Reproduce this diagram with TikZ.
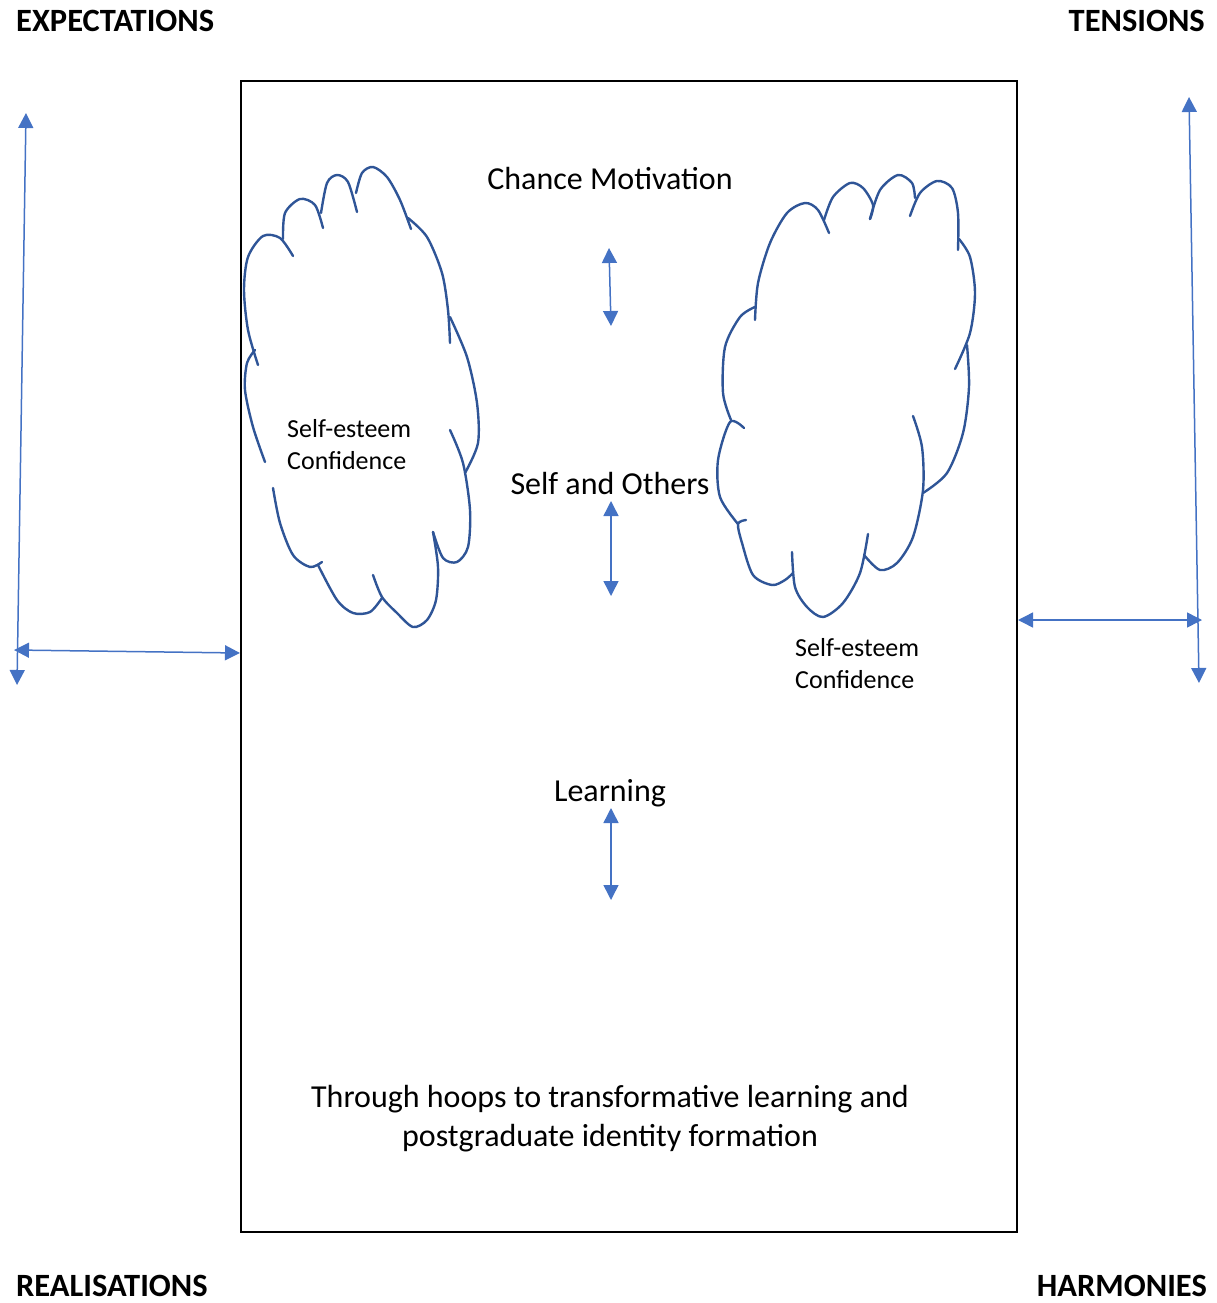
\documentclass[tikz,border=0pt]{standalone}
\usepackage{fontspec}
\setmainfont{Carlito}
\usetikzlibrary{arrows.meta}

\begin{document}
\begin{tikzpicture}[x=1pt,y=-1pt,
  cornertxt/.style={font=\fontsize{32.5}{38}\selectfont\bfseries, inner sep=0pt},
  midtxt/.style={font=\fontsize{32}{38}\selectfont, inner sep=0pt, anchor=base},
  esteemtxt/.style={font=\fontsize{26}{32}\selectfont, inner sep=0pt, anchor=base west},
  arr/.style={arrowBlue, line width=1.5pt, {Triangle[length=15pt,width=15pt]}-{Triangle[length=15pt,width=15pt]}},
  cloudline/.style={cloudBlue, line width=2.4pt, line cap=round}]

\definecolor{arrowBlue}{HTML}{4472C4}
\definecolor{cloudBlue}{HTML}{2F5597}

\useasboundingbox (0,0) rectangle (1217,1303);

% corner labels
\node[cornertxt, anchor=base west] (expect) at (16,32) {EXPECTATIONS};
\node[cornertxt, anchor=base east] (tension) at (1205,32) {TENSIONS};
\node[cornertxt, anchor=base west] (realis) at (16,1296) {REALISATIONS};
\node[cornertxt, anchor=base east] (harmon) at (1207,1296) {HARMONIES};

% frame
\node[draw, line width=2pt, inner sep=0pt, minimum width=776pt, minimum height=1151pt, anchor=north west] (frame) at (240,80) {};

% texts in the frame
\node[midtxt] (chance) at (610,189) {Chance Motivation};
\node[midtxt] (others) at (610,494) {Self and Others};
\node[midtxt] (learn) at (610,801) {Learning};
\node[midtxt] (hoops1) at (610,1107) {Through hoops to transformative learning and};
\node[midtxt] (hoops2) at (610,1146) {postgraduate identity formation};

\node[esteemtxt] (esteemL) at (287,437) {Self-esteem};
\node[esteemtxt] (confL) at (287,469) {Confidence};
\node[esteemtxt] (esteemR) at (795,656) {Self-esteem};
\node[esteemtxt] (confR) at (795,688) {Confidence};

% arrows
\coordinate (expTop) at (26,113);
\coordinate (expBot) at (17,685);
\coordinate (expL) at (14,650);
\coordinate (expR) at (240,653);
\coordinate (tenTop) at (1189,97);
\coordinate (tenBot) at (1199,683);
\coordinate (tenL) at (1018,620);
\coordinate (tenR) at (1202,620);
\coordinate (chTop) at (609,248);
\coordinate (chBot) at (611,326);
\coordinate (soTop) at (611,501);
\coordinate (soBot) at (611,596);
\coordinate (leTop) at (611,808);
\coordinate (leBot) at (611,900);

\draw[arr] (expTop) -- (expBot);
\draw[arr] (expL) -- (expR);
\draw[arr] (tenTop) -- (tenBot);
\draw[arr] (tenL) -- (tenR);
\draw[arr] (chTop) -- (chBot);
\draw[arr] (soTop) -- (soBot);
\draw[arr] (leTop) -- (leBot);

% left cloud
\draw[cloudline] plot[smooth] coordinates {(258,365) (248,330) (244,290) (248,257) (263,236) (280,238) (293,256)};
\draw[cloudline] plot[smooth] coordinates {(283,239) (285,213) (300,199) (315,205) (323,228)};
\draw[cloudline] plot[smooth] coordinates {(321,213) (327,183) (337,175) (348,182) (357,212)};
\draw[cloudline] plot[smooth] coordinates {(356,193) (362,173) (373,167) (387,177) (400,200) (411,229)};
\draw[cloudline] plot[smooth] coordinates {(408,218) (427,237) (442,273) (448,310) (450,343)};
\draw[cloudline] plot[smooth] coordinates {(450,317) (467,357) (477,403) (478,443) (465,473)};
\draw[cloudline] plot[smooth] coordinates {(450,430) (463,463) (470,510) (468,547) (457,562) (443,558) (433,532)};
\draw[cloudline] plot[smooth] coordinates {(433,532) (438,567) (436,600) (427,620) (413,627) (397,613) (382,597) (373,575)};
\draw[cloudline] plot[smooth] coordinates {(382,598) (370,612) (353,613) (337,600) (318,565)};
\draw[cloudline] plot[smooth] coordinates {(322,562) (310,567) (293,555) (280,523) (273,488)};
\draw[cloudline] plot[smooth] coordinates {(265,462) (253,427) (245,390) (247,363) (255,350)};

% right cloud
\draw[cloudline] plot[smooth] coordinates {(755,320) (758,283) (770,243) (787,213) (805,203) (818,210) (829,233)};
\draw[cloudline] plot[smooth] coordinates {(824,220) (833,197) (850,183) (863,188) (873,205) (870,219)};
\draw[cloudline] plot[smooth] coordinates {(870,219) (880,190) (898,175) (912,183) (915,198)};
\draw[cloudline] plot[smooth] coordinates {(910,216) (920,193) (937,181) (952,188) (958,213) (958,250)};
\draw[cloudline] plot[smooth] coordinates {(959,239) (970,257) (975,293) (970,333) (955,369)};
\draw[cloudline] plot[smooth] coordinates {(967,345) (969,387) (963,433) (947,473) (923,493)};
\draw[cloudline] plot[smooth] coordinates {(913,416) (922,447) (923,490) (913,537) (897,563) (880,570) (864,555)};
\draw[cloudline] plot[smooth] coordinates {(868,534) (860,573) (843,603) (823,617) (807,607) (795,587) (792,552)};
\draw[cloudline] plot[smooth] coordinates {(793,573) (785,580) (772,585) (753,575) (742,543) (738,524) (746,520)};
\draw[cloudline] plot[smooth] coordinates {(738,524) (720,497) (718,460) (730,422) (744,428)};
\draw[cloudline] plot[smooth] coordinates {(731,420) (723,393) (725,347) (740,317) (755,307)};
\end{tikzpicture}
\end{document}
